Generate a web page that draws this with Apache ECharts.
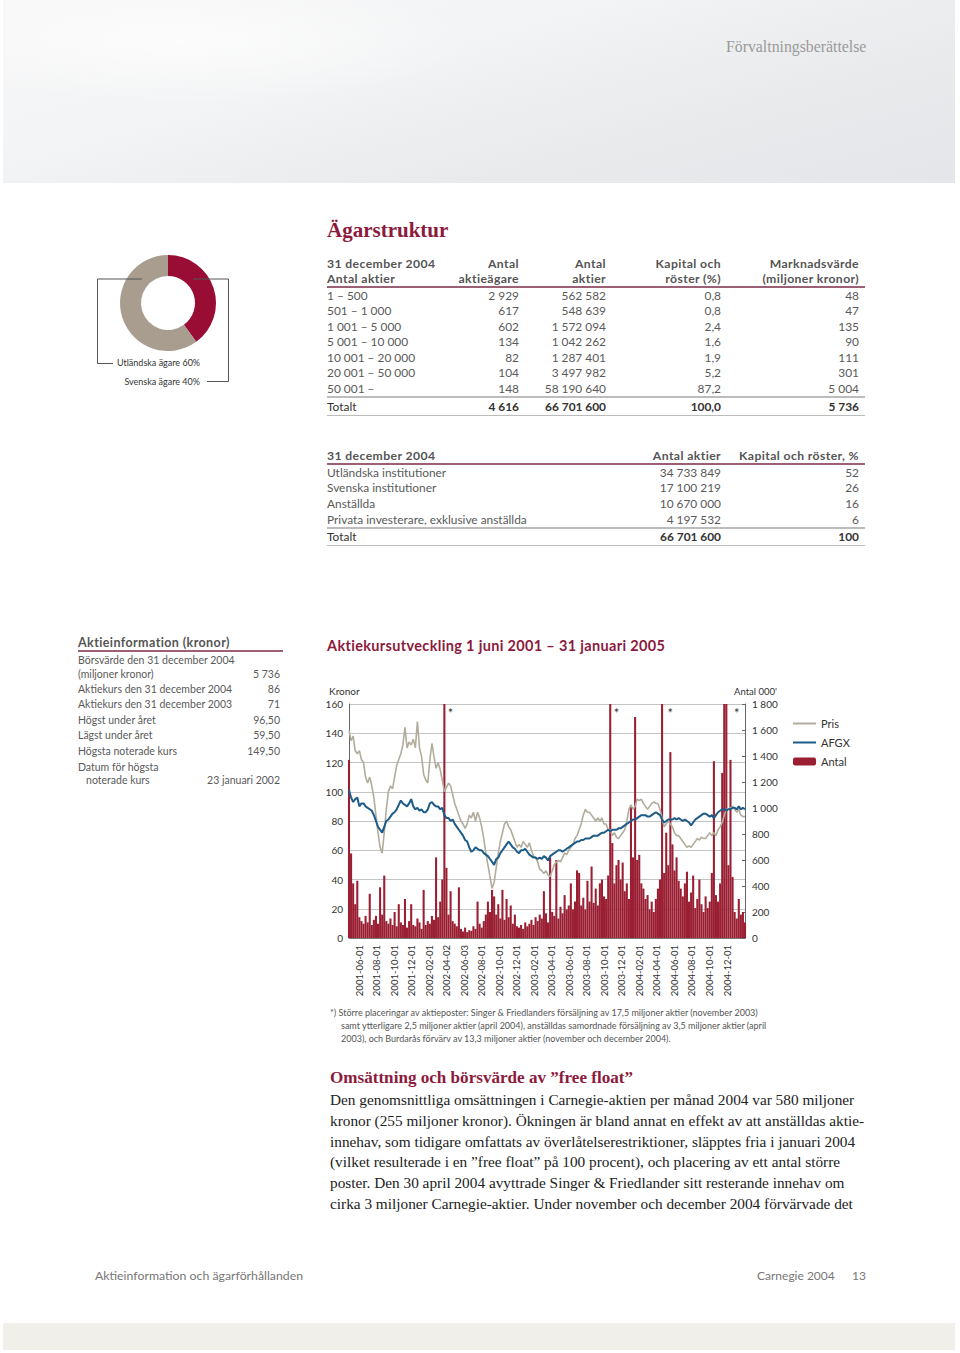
<!DOCTYPE html>
<html lang="sv">
<head>
<meta charset="utf-8">
<title>Aktieinformation och ägarförhållanden</title>
<script src="https://cdn.jsdelivr.net/npm/echarts/dist/echarts.min.js"></script>
<style>
  body { margin: 0; background: #fff; }
  .page { position: relative; width: 960px; height: 1353px; overflow: hidden; font-family: Lato, 'Open Sans', sans-serif; color: #555; }
  .abs { position: absolute; white-space: nowrap; }
  .band { left: 3px; top: 0; width: 952px; height: 183px;
    background: radial-gradient(ellipse 420px 90px at 180px 40px, rgba(252,252,252,0.9), rgba(252,252,252,0) 70%),
                linear-gradient(165deg, #f8f8f9 0%, #f3f4f5 35%, #e8eaec 70%, #e4e6e9 100%); }
  .serif { font-family: 'Liberation Serif', 'DejaVu Serif', serif; }
  .red { color: #8c1a3c; }
  .rule { position: absolute; height: 2px; }
  .r-red { background: #9c6074; }
  .r-gray { background: #bcbcbc; }
  table { position: absolute; border-collapse: collapse; table-layout: fixed; font-size: 11.9px; color: #5a5a5a; }
  td, th { padding: 0; white-space: nowrap; }
  th { font-weight: 700; font-size: 12.2px; letter-spacing: 0.4px; color: #555; line-height: 15px; vertical-align: bottom; }
  .l { text-align: left; } .rt { text-align: right; }
  tr.tot td { color: #333; font-weight: 700; }
  .info div { position: absolute; left: 0; width: 202px; height: 14px; line-height: 14px; font-size: 10.5px; color: #5a5a5a; }
  .info span { position: absolute; right: 0; }
  #pie { position: absolute; left: 88px; top: 243px; width: 160px; height: 160px; }
  #kurs { position: absolute; left: 320px; top: 680px; width: 550px; height: 320px; }
  .note { font-size: 9px; color: #555; line-height: 13px; }
  .body { font-size: 15.3px; color: #222; line-height: 20.8px; }
</style>
</head>
<body>
<div class="page">
  <div class="abs band"></div>
  <div class="abs serif" style="left:726px;top:38px;font-size:15.8px;color:#9a9a9a;">Förvaltningsberättelse</div>

  <div class="abs serif red" style="left:327px;top:218px;font-size:21px;font-weight:700;">Ägarstruktur</div>

  <div id="pie"></div>

  <!-- tabell 1 -->
  <table style="left:327px;top:255.5px;width:532px;">
    <colgroup><col style="width:113px"><col style="width:79px"><col style="width:87px"><col style="width:115px"><col style="width:138px"></colgroup>
    <tr style="height:30px"><th class="l">31 december 2004<br>Antal aktier</th><th class="rt">Antal<br>aktieägare</th><th class="rt">Antal<br>aktier</th><th class="rt">Kapital och<br>röster (%)</th><th class="rt">Marknadsvärde<br>(miljoner kronor)</th></tr>
    <tr style="height:2px"><td colspan="5"></td></tr>
    <tr style="height:15.5px"><td>1 – 500</td><td class="rt">2 929</td><td class="rt">562 582</td><td class="rt">0,8</td><td class="rt">48</td></tr>
    <tr style="height:15.5px"><td>501 – 1 000</td><td class="rt">617</td><td class="rt">548 639</td><td class="rt">0,8</td><td class="rt">47</td></tr>
    <tr style="height:15.5px"><td>1 001 – 5 000</td><td class="rt">602</td><td class="rt">1 572 094</td><td class="rt">2,4</td><td class="rt">135</td></tr>
    <tr style="height:15.5px"><td>5 001 – 10 000</td><td class="rt">134</td><td class="rt">1 042 262</td><td class="rt">1,6</td><td class="rt">90</td></tr>
    <tr style="height:15.5px"><td>10 001 – 20 000</td><td class="rt">82</td><td class="rt">1 287 401</td><td class="rt">1,9</td><td class="rt">111</td></tr>
    <tr style="height:15.5px"><td>20 001 – 50 000</td><td class="rt">104</td><td class="rt">3 497 982</td><td class="rt">5,2</td><td class="rt">301</td></tr>
    <tr style="height:15.5px"><td>50 001 –</td><td class="rt">148</td><td class="rt">58 190 640</td><td class="rt">87,2</td><td class="rt">5 004</td></tr>
    <tr style="height:2px"><td colspan="5"></td></tr>
    <tr class="tot" style="height:17px"><td style="font-weight:400">Totalt</td><td class="rt">4 616</td><td class="rt">66 701 600</td><td class="rt">100,0</td><td class="rt">5 736</td></tr>
  </table>
  <div class="rule r-red" style="left:327px;top:285.5px;width:538px;"></div>
  <div class="rule r-gray" style="left:327px;top:395.5px;width:538px;"></div>
  <div class="rule r-gray" style="left:327px;top:414.5px;width:538px;height:1px;"></div>

  <!-- tabell 2 -->
  <table style="left:327px;top:447.2px;width:532px;">
    <colgroup><col style="width:300px"><col style="width:94px"><col style="width:138px"></colgroup>
    <tr style="height:15.6px"><th class="l">31 december 2004</th><th class="rt">Antal aktier</th><th class="rt">Kapital och röster, %</th></tr>
    <tr style="height:1.7px"><td colspan="3"></td></tr>
    <tr style="height:15.6px"><td>Utländska institutioner</td><td class="rt">34 733 849</td><td class="rt">52</td></tr>
    <tr style="height:15.6px"><td>Svenska institutioner</td><td class="rt">17 100 219</td><td class="rt">26</td></tr>
    <tr style="height:15.6px"><td>Anställda</td><td class="rt">10 670 000</td><td class="rt">16</td></tr>
    <tr style="height:15.6px"><td>Privata investerare, exklusive anställda</td><td class="rt">4 197 532</td><td class="rt">6</td></tr>
    <tr style="height:2px"><td colspan="3"></td></tr>
    <tr class="tot" style="height:16px"><td style="font-weight:400">Totalt</td><td class="rt">66 701 600</td><td class="rt">100</td></tr>
  </table>
  <div class="rule r-red" style="left:327px;top:462.8px;width:538px;"></div>
  <div class="rule r-gray" style="left:327px;top:527px;width:538px;"></div>
  <div class="rule r-gray" style="left:327px;top:545px;width:538px;height:1px;"></div>

  <!-- aktieinformation -->
  <div class="abs" style="left:78px;top:635px;font-size:12.5px;font-weight:700;letter-spacing:0.4px;color:#555;">Aktieinformation (kronor)</div>
  <div class="rule r-red" style="left:78px;top:650px;width:205px;"></div>
  <div class="abs info" style="left:78px;top:0;">
    <div style="top:653px">Börsvärde den 31 december 2004</div>
    <div style="top:667px">(miljoner kronor)<span>5 736</span></div>
    <div style="top:682px">Aktiekurs den 31 december 2004<span>86</span></div>
    <div style="top:697px">Aktiekurs den 31 december 2003<span>71</span></div>
    <div style="top:713px">Högst under året<span>96,50</span></div>
    <div style="top:728px">Lägst under året<span>59,50</span></div>
    <div style="top:744px">Högsta noterade kurs<span>149,50</span></div>
    <div style="top:760px">Datum för högsta</div>
    <div style="top:773px">&nbsp;&nbsp;&nbsp;noterade kurs<span>23 januari 2002</span></div>
  </div>

  <div class="abs red" style="left:327px;top:637px;font-size:14.5px;font-weight:700;letter-spacing:0.33px;">Aktiekursutveckling 1 juni 2001 – 31 januari 2005</div>
  <div id="kurs"></div>

  <div class="abs note" style="left:330px;top:1006px;">*) Större placeringar av aktieposter: Singer &amp; Friedlanders försäljning av 17,5 miljoner aktier (november 2003)</div>
  <div class="abs note" style="left:341px;top:1019px;">samt ytterligare 2,5 miljoner aktier (april 2004), anställdas samordnade försäljning av 3,5 miljoner aktier (april</div>
  <div class="abs note" style="left:341px;top:1032px;">2003), och Burdarås förvärv av 13,3 miljoner aktier (november och december 2004).</div>

  <div class="abs serif red" style="left:330px;top:1068px;font-size:17.1px;font-weight:700;">Omsättning och börsvärde av ”free float”</div>
  <div class="abs serif body" style="left:330px;top:1090px;">
    Den genomsnittliga omsättningen i Carnegie-aktien per månad 2004 var 580 miljoner<br>
    kronor (255 miljoner kronor). Ökningen är bland annat en effekt av att anställdas aktie-<br>
    innehav, som tidigare omfattats av överlåtelserestriktioner, släpptes fria i januari 2004<br>
    (vilket resulterade i en ”free float” på 100 procent), och placering av ett antal större<br>
    poster. Den 30 april 2004 avyttrade Singer &amp; Friedlander sitt resterande innehav om<br>
    cirka 3 miljoner Carnegie-aktier. Under november och december 2004 förvärvade det
  </div>

  <div class="abs" style="left:95px;top:1268px;font-size:12.3px;color:#777;">Aktieinformation och ägarförhållanden</div>
  <div class="abs" style="left:757px;top:1268px;font-size:12px;color:#777;">Carnegie 2004</div>
  <div class="abs" style="left:852px;top:1268px;font-size:12px;color:#777;">13</div>
  <div class="abs" style="left:3px;top:1323px;width:952px;height:27px;background:#f0efe9;"></div>
</div>

<script>
// ägarfördelning, procent
const agareNamn = ['Svenska ägare', 'Utländska ägare']
const agareAndel = [40, 60]

// x-axelns etiketter som de står i diagrammet
const tickLabels = ['2001-06-01', '2001-08-01', '2001-10-01', '2001-12-01', '2002-02-01', '2002-04-02',
  '2002-06-03', '2002-08-01', '2002-10-01', '2002-12-01', '2003-02-01', '2003-04-01', '2003-06-01',
  '2003-08-01', '2003-10-01', '2003-12-01', '2004-02-01', '2004-04-01', '2004-06-01', '2004-08-01',
  '2004-10-01', '2004-12-01']

// veckovärden från 1 juni 2001
// Pris (kronor)
const pris = [
  142, 135, 138, 128, 126, 128, 122, 120, 110, 106,
  110, 104, 96, 84, 72, 62, 58, 72, 88, 100,
  104, 102, 110, 118, 122, 126, 132, 144, 130, 134,
  132, 136, 130, 148, 130, 124, 112, 108, 106, 122,
  133, 124, 116, 120, 115, 108, 100, 103, 106, 104,
  98, 92, 88, 84, 80, 78, 75, 78, 84, 82,
  86, 80, 86, 82, 76, 68, 58, 50, 42, 34,
  38, 48, 58, 66, 72, 78, 80, 76, 74, 70,
  66, 62, 64, 62, 66, 64, 62, 65, 60, 56,
  55, 52, 47, 46, 44, 46, 43, 42, 46, 50,
  52, 53, 52, 55, 58, 57, 60, 62, 64, 68,
  70, 74, 78, 84, 88, 86, 86, 84, 82, 80,
  82, 80, 82, 78, 78, 74, 74, 70, 72, 69,
  68, 70, 72, 74, 80, 88, 91, 88, 90, 95,
  94, 95, 92, 90, 88, 90, 92, 93, 92, 92,
  88, 82, 76, 78, 80, 78, 76, 72, 70, 70,
  68, 66, 64, 62, 63, 62, 64, 66, 68, 67,
  69, 68, 68, 70, 72, 70, 72, 70, 74, 76,
  79, 84, 88, 88, 89, 90, 88, 86, 88, 84,
  83, 83
]
// AFGX (indexerat mot kronor)
const afgx = [
  101, 96, 93, 95, 96, 90, 92, 92, 90, 89,
  88, 87, 84, 80, 76, 74, 72, 76, 80, 81,
  83, 85, 86, 88, 91, 94, 92, 91, 90, 92,
  95, 90, 88, 89, 87, 88, 86, 86, 88, 92,
  93, 91, 90, 90, 88, 89, 84, 82, 82, 80,
  81, 78, 76, 74, 72, 70, 67, 66, 62, 59,
  60, 62, 61, 60, 60, 58, 57, 56, 54, 52,
  50, 54, 55, 58, 60, 62, 64, 66, 64, 62,
  61, 59, 58, 60, 60, 61, 59, 57, 56, 55,
  55, 54, 55, 54, 56, 55, 53, 56, 57, 58,
  59, 60, 60, 59, 60, 61, 62, 63, 64, 65,
  66, 66, 67, 67, 68, 68, 68, 69, 70, 70,
  70, 71, 72, 72, 73, 74, 73, 74, 74, 74,
  75, 75, 76, 77, 78, 79, 80, 81, 81, 82,
  83, 84, 84, 84, 83, 83, 84, 85, 86, 85,
  84, 81, 79, 80, 81, 81, 81, 82, 81, 82,
  81, 80, 81, 80, 79, 77, 79, 81, 82, 83,
  84, 85, 85, 84, 83, 84, 82, 84, 86, 87,
  88, 88, 87, 88, 88, 89, 89, 88, 90, 88,
  89, 88
]
// Antal omsatta aktier (tusental)
const antal = [
  1370, 650, 420, 260, 440, 160, 130, 110, 170, 120,
  340, 100, 140, 170, 110, 390, 180, 480, 130, 110,
  150, 100, 200, 90, 260, 120, 100, 300, 80, 130,
  260, 100, 90, 150, 120, 70, 370, 100, 130, 110,
  170, 140, 620, 160, 280, 450, 2600, 540, 180, 360,
  130, 110, 90, 390, 70, 50, 80, 45, 60, 55,
  90, 70, 280, 110, 80, 130, 180, 280, 200, 370,
  320, 180, 260, 150, 370, 140, 300, 160, 250, 110,
  180, 90, 80, 100, 70, 120, 90, 110, 140, 100,
  160, 130, 180, 150, 360, 190, 120, 620, 200, 170,
  600, 150, 240, 190, 330, 220, 250, 420, 220, 280,
  520, 500, 250, 310, 220, 440, 280, 550, 270, 380,
  250, 420, 450, 320, 300, 480, 3000, 730, 420, 560,
  600, 450, 580, 360, 420, 300, 1020, 620, 1700, 600,
  640, 420, 380, 300, 330, 220, 280, 200, 300, 380,
  450, 2400, 500, 810, 560, 1430, 720, 520, 620, 440,
  380, 320, 420, 510, 280, 350, 480, 230, 300, 450,
  260, 200, 320, 230, 280, 500, 1360, 330, 280, 420,
  1270, 2500, 2700, 560, 1370, 470, 200, 150, 300, 180,
  200, 120
]
// veckor med större placeringar (markeras med *)
const starWeeks = [49, 129, 155, 187]

// kategorier: en per vecka
const weeks = []
const start = Date.UTC(2001, 5, 1)
for (let i = 0; i < pris.length; i++) {
  weeks.push(new Date(start + i * 7 * 864e5).toISOString().slice(0, 10))
}

function spaced (v) {
  return String(v).replace(/\B(?=(\d{3})+(?!\d))/g, ' ')
}

// cirkeldiagram
const pie = echarts.init(document.getElementById('pie'), null, { renderer: 'svg' })
pie.setOption({
  animation: false,
  series: [{
    type: 'pie',
    radius: [27, 48],
    center: [80, 60],
    startAngle: 90,
    clockwise: true,
    silent: true,
    avoidLabelOverlap: false,
    color: ['#990d35', '#a99d90'],
    data: agareNamn.map((n, i) => ({ name: n, value: agareAndel[i] })),
    label: { show: true, position: 'inside', formatter: '{b} {c}%', fontFamily: 'Lato', fontSize: 9, color: '#333', overflow: 'none' },
    labelLine: { show: false },
    labelLayout: function (p) {
      if (p.dataIndex === 0) {
        return { x: 112, y: 138, align: 'right', verticalAlign: 'middle' }
      }
      return { x: 29, y: 119, align: 'left', verticalAlign: 'middle' }
    }
  }],
  graphic: [
    { type: 'polyline', z: 100, shape: { points: [[54, 36], [9.5, 36], [9.5, 120.5], [25, 120.5]] }, style: { stroke: '#555', fill: null, lineWidth: 1 } },
    { type: 'polyline', z: 100, shape: { points: [[105, 36], [140.5, 36], [140.5, 138.5], [119, 138.5]] }, style: { stroke: '#555', fill: null, lineWidth: 1 } }
  ]
})

// aktiekursdiagram
const kurs = echarts.init(document.getElementById('kurs'), null, { renderer: 'svg' })
kurs.setOption({
  animation: false,
  textStyle: { fontFamily: 'Lato' },
  grid: [
    { left: 29, right: 125, top: 24, bottom: 62 },
    { left: 39, right: 143, top: 24, bottom: 62 }
  ],
  legend: {
    orient: 'vertical',
    left: 467,
    top: 33,
    itemWidth: 23,
    itemHeight: 8,
    itemGap: 8,
    textStyle: { fontSize: 11, color: '#333' },
    data: [
      { name: 'Pris', itemStyle: { opacity: 0 } },
      { name: 'AFGX', itemStyle: { opacity: 0 } },
      { name: 'Antal' }
    ]
  },
  xAxis: [
    {
      type: 'category',
      gridIndex: 0,
      data: weeks,
      boundaryGap: false,
      axisLine: { show: true, lineStyle: { color: '#777' } },
      axisTick: { show: false },
      axisLabel: { show: false },
      splitLine: { show: false }
    },
    {
      type: 'category',
      gridIndex: 1,
      data: tickLabels,
      boundaryGap: false,
      axisLine: { show: false },
      axisTick: { show: false },
      axisLabel: { rotate: 90, interval: 0, fontSize: 9.5, color: '#333', margin: 7 }
    }
  ],
  yAxis: [
    {
      type: 'value',
      gridIndex: 0,
      min: 0,
      max: 160,
      interval: 20,
      name: 'Kronor',
      nameGap: 8,
      nameTextStyle: { fontSize: 10, color: '#333', align: 'left', padding: [0, 0, 0, -20] },
      axisLine: { show: true, lineStyle: { color: '#666' } },
      axisTick: { show: false },
      axisLabel: { fontSize: 10, color: '#333', margin: 6 },
      splitLine: { lineStyle: { color: '#c4c4c4' } }
    },
    {
      type: 'value',
      gridIndex: 0,
      position: 'right',
      min: 0,
      max: 1800,
      interval: 200,
      name: "Antal 000'",
      nameGap: 8,
      nameTextStyle: { fontSize: 9.5, color: '#333', align: 'left', padding: [0, 0, 0, -11] },
      axisLine: { show: true, lineStyle: { color: '#666' } },
      axisTick: { show: true, inside: true, length: 3, lineStyle: { color: '#666' } },
      axisLabel: { fontSize: 10, color: '#333', margin: 7, formatter: spaced },
      splitLine: { show: false }
    },
    { type: 'value', gridIndex: 1, show: false }
  ],
  series: [
    {
      name: 'Antal',
      type: 'bar',
      xAxisIndex: 0,
      yAxisIndex: 1,
      data: antal,
      barCategoryGap: '0%',
      itemStyle: { color: '#9a1f33' },
      markPoint: {
        symbol: 'circle',
        symbolSize: 1,
        itemStyle: { color: 'rgba(0,0,0,0)' },
        label: { show: true, formatter: '*', color: '#333', fontSize: 13, position: 'inside' },
        data: starWeeks.map(i => ({ coord: [weeks[i], 1730] }))
      }
    },
    {
      name: 'Pris',
      type: 'line',
      xAxisIndex: 0,
      yAxisIndex: 0,
      data: pris,
      symbol: 'none',
      itemStyle: { color: '#b1ac9c' },
      lineStyle: { color: '#b1ac9c', width: 1.6 }
    },
    {
      name: 'AFGX',
      type: 'line',
      xAxisIndex: 0,
      yAxisIndex: 0,
      data: afgx,
      symbol: 'none',
      itemStyle: { color: '#1e5b88' },
      lineStyle: { color: '#1e5b88', width: 2 }
    }
  ]
})
</script>
</body>
</html>
